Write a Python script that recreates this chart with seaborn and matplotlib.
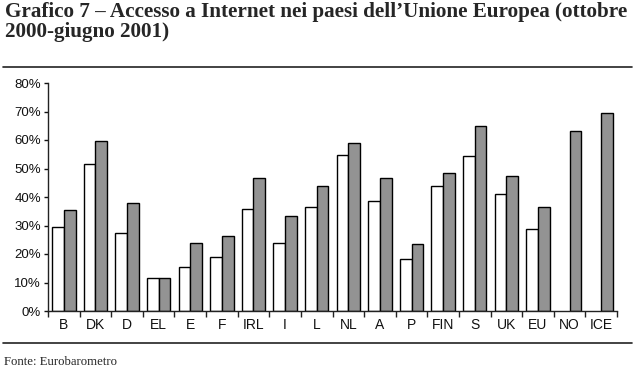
import numpy as np
import pandas as pd
import matplotlib
matplotlib.use('Agg')
import matplotlib.pyplot as plt
from matplotlib.ticker import PercentFormatter, FixedLocator
import seaborn as sns

# dati
paesi = ['B', 'DK', 'D', 'EL', 'E', 'F', 'IRL', 'I', 'L', 'NL',
         'A', 'P', 'FIN', 'S', 'UK', 'EU', 'NO', 'ICE']
ottobre_2000 = [29.3, 51.7, 27.4, 11.7, 15.6, 19.0, 35.8, 23.7, 36.6, 54.9,
                38.5, 18.4, 43.8, 54.4, 41.2, 28.7, np.nan, np.nan]
giugno_2001 = [35.3, 59.8, 37.9, 11.6, 23.7, 26.4, 46.7, 33.5, 43.9, 59.1,
               46.6, 23.5, 48.3, 64.8, 47.3, 36.6, 63.2, 69.4]
periodi = ['ottobre 2000', 'giugno 2001']

df = pd.DataFrame({
    'paese': paesi * 2,
    'periodo': [periodi[0]] * len(paesi) + [periodi[1]] * len(paesi),
    'valore': ottobre_2000 + giugno_2001,
})

sns.set_style('ticks')
plt.rcParams['font.family'] = ['Liberation Sans', 'DejaVu Sans']

fig = plt.figure(figsize=(6.35, 3.88), dpi=100)
ax = fig.add_axes([48 / 635, 77 / 388, 569 / 635, 228 / 388])

sns.barplot(data=df, x='paese', y='valore', hue='periodo', order=paesi,
            hue_order=periodi, palette=['white', '#939393'],
            edgecolor='black', linewidth=1.0, width=0.74,
            errorbar=None, legend=False, ax=ax)

ax.set_xlim(-0.5, len(paesi) - 0.5)
ax.set_ylim(0, 80)
ax.set_yticks(range(0, 81, 10))
ax.yaxis.set_major_formatter(PercentFormatter(decimals=0))
ax.set_xlabel('')
ax.set_ylabel('')
sns.despine(ax=ax, top=True, right=True)
for s in ['left', 'bottom']:
    ax.spines[s].set_linewidth(1.0)
    ax.spines[s].set_color('#222222')

ax.tick_params(axis='y', length=3, width=1, pad=2, labelsize=9.5, colors='#111111')
ax.tick_params(axis='x', which='major', length=0, pad=5, labelsize=10, colors='#111111')
ax.xaxis.set_minor_locator(FixedLocator(np.arange(-0.5, len(paesi), 1)))
ax.tick_params(axis='x', which='minor', length=4, width=1, color='#222222')

# titolo, righe e fonte
fig.text(5 / 635, 1 - 2 / 388,
         'Grafico 7 – Accesso a Internet nei paesi dell’Unione Europea (ottobre\n2000-giugno 2001)',
         ha='left', va='top', fontsize=15.2, fontweight='bold',
         family=['Liberation Serif', 'DejaVu Serif'], linespacing=0.98)
fig.add_artist(plt.Line2D([3 / 635, 632 / 635], [1 - 67 / 388] * 2,
                          color='#222222', linewidth=1.2))
fig.add_artist(plt.Line2D([3 / 635, 632 / 635], [1 - 343 / 388] * 2,
                          color='#222222', linewidth=1.2))
fig.text(4 / 635, 1 - 362 / 388, 'Fonte: Eurobarometro', ha='left', va='center',
         fontsize=9.2, family=['Liberation Serif', 'DejaVu Serif'])

fig.savefig('out.png', dpi=100)
